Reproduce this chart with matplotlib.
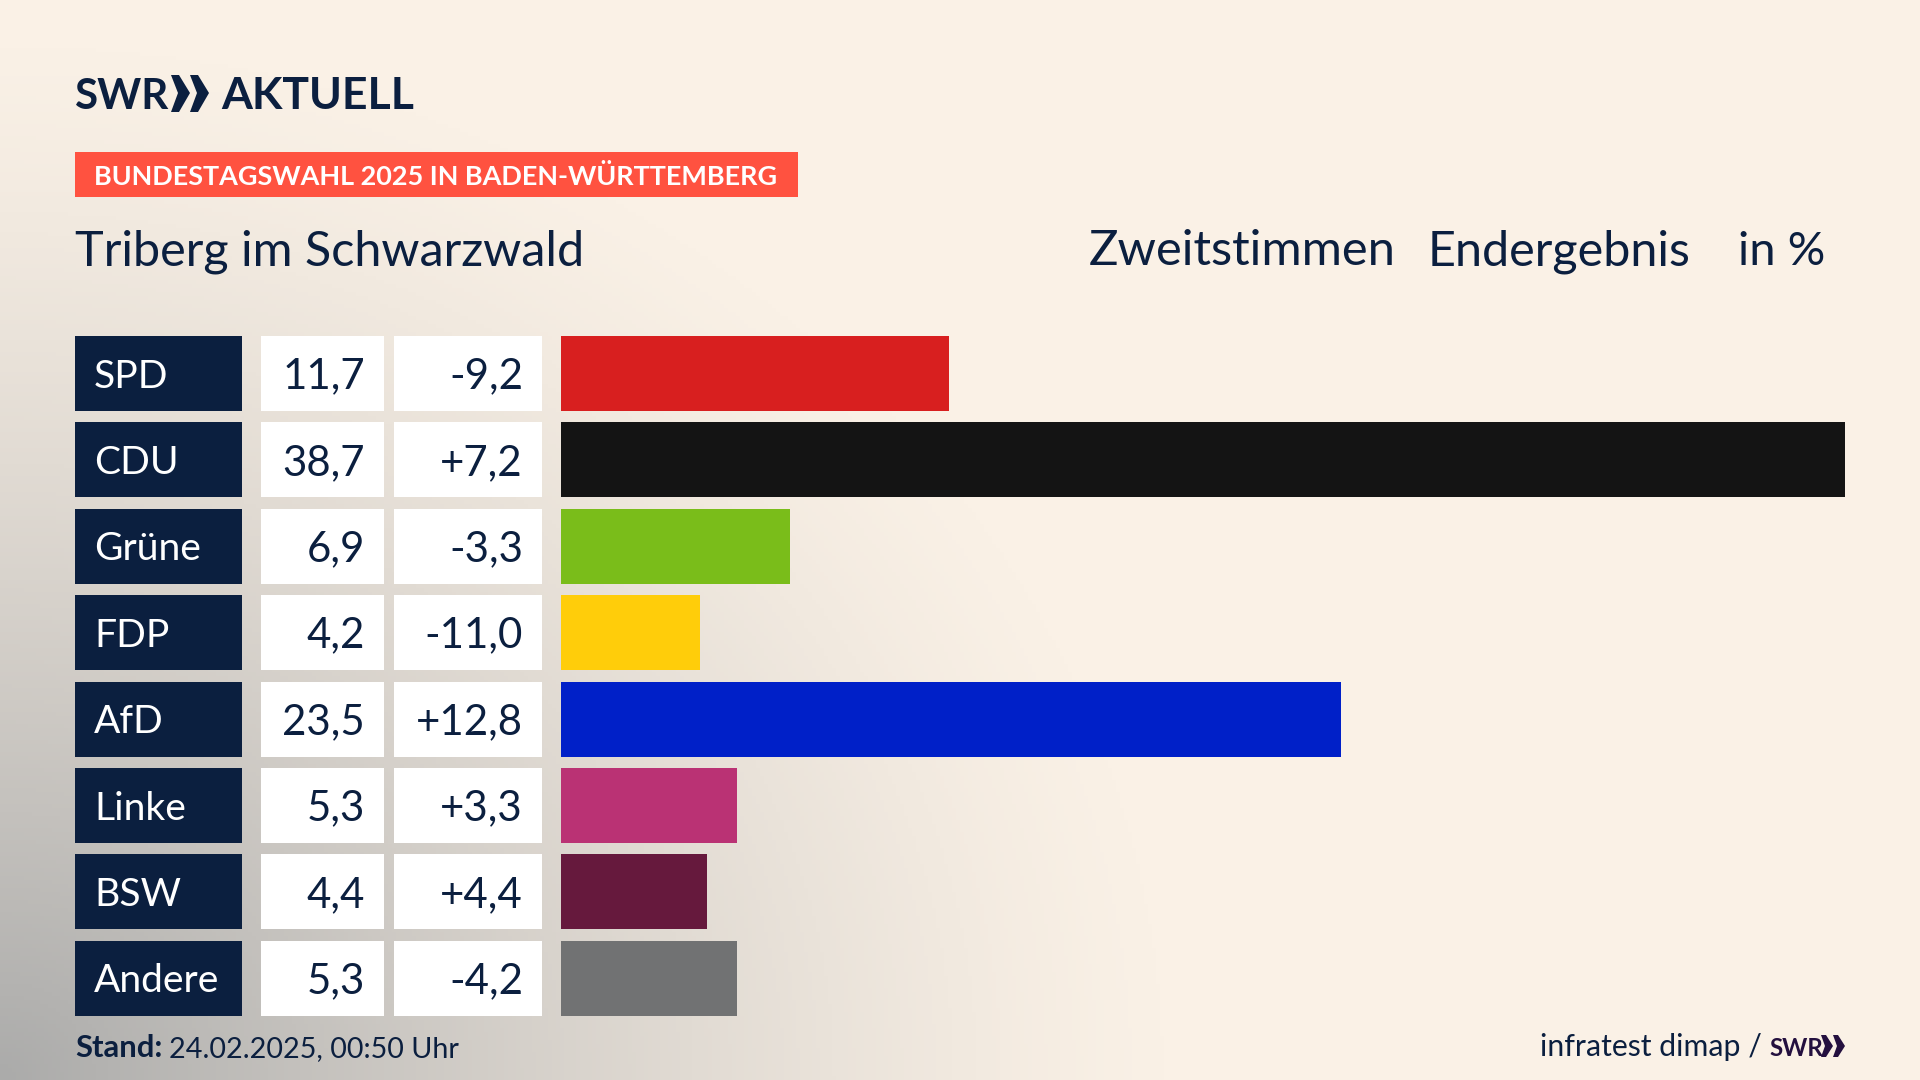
import matplotlib
matplotlib.use('Agg')
import matplotlib.pyplot as plt
import numpy as np
from matplotlib.colors import LinearSegmentedColormap

plt.rcParams['font.family'] = ['Lato', 'Noto Sans', 'DejaVu Sans']

parties = ['SPD', 'CDU', 'Grüne', 'FDP', 'AfD', 'Linke', 'BSW', 'Andere']
results = [11.7, 38.7, 6.9, 4.2, 23.5, 5.3, 4.4, 5.3]
changes = ['-9,2', '+7,2', '-3,3', '-11,0', '+12,8', '+3,3', '+4,4', '-4,2']
bar_colors = ['#D81F1F', '#141414', '#7ABD1A', '#FFCD0A', '#0020C8', '#BA3274', '#66193D', '#717273']

NAVY = '#0B1F3F'
W, H = 1920, 1080
ROW0, PITCH, ROW_H = 373.5, 86.4, 75


def pt(px):
    return px * 0.72


fig = plt.figure(figsize=(W / 100, H / 100), dpi=100)
ax = fig.add_axes([0, 0, 1, 1])
ax.set_xlim(0, W)
ax.set_ylim(H, 0)
ax.axis('off')

# hintergrund: grauer verlauf von unten links
xx, yy = np.meshgrid(np.linspace(0, 1, 480), np.linspace(0, 1, 270))
dist = np.sqrt((xx * W / 1180) ** 2 + ((1 - yy) * H / 1050) ** 2)
shade = np.clip(1 - dist, 0, 1) ** 1.3
cmap = LinearSegmentedColormap.from_list('bg', ['#FAF1E6', '#ABABAA'])
ax.imshow(shade, extent=[0, W, H, 0], cmap=cmap, vmin=0, vmax=1, aspect='auto', zorder=0)

# logo
ax.text(75, 109, 'SWR', color=NAVY, fontsize=pt(42), fontweight='bold', va='baseline', zorder=3)
for x0 in (171, 190):
    ax.fill([x0, x0 + 8, x0 + 19, x0 + 8, x0, x0 + 7], [75, 75, 93, 112, 112, 93], color=NAVY, zorder=3, lw=0)
ax.text(221, 109, 'AKTUELL', color=NAVY, fontsize=pt(44.5), fontweight='bold', va='baseline', zorder=3)

# kopfzeile
ax.fill_between([75, 798], 152, 197, color='#FF5240', lw=0, zorder=2)
ax.text(94, 185, 'BUNDESTAGSWAHL 2025 IN BADEN-WÜRTTEMBERG', color='white', fontsize=pt(27),
        fontweight='bold', va='baseline', zorder=3)
ax.text(75, 265, 'Triberg im Schwarzwald', color=NAVY, fontsize=pt(48.5), va='baseline', zorder=3)
ax.text(1089, 265, 'Zweitstimmen', color=NAVY, fontsize=pt(49), va='baseline', zorder=3)
ax.text(1428, 265, 'Endergebnis', color=NAVY, fontsize=pt(48.5), va='baseline', zorder=3)
ax.text(1825, 265, 'in %', color=NAVY, fontsize=pt(47), va='baseline', ha='right', zorder=3)

# tabelle
rows = ROW0 + PITCH * np.arange(len(parties))
ax.barh(rows, 167, left=75, height=ROW_H, color=NAVY, zorder=2)
ax.barh(rows, 123, left=261, height=ROW_H, color='white', zorder=2)
ax.barh(rows, 148, left=394, height=ROW_H, color='white', zorder=2)
for y, party, res, chg in zip(rows, parties, results, changes):
    ax.text(94, y + 14, party, color='white', fontsize=pt(39), va='baseline', zorder=3)
    ax.text(365, y + 15, f'{res:.1f}'.replace('.', ','), color=NAVY, fontsize=pt(42), va='baseline', ha='right', zorder=3)
    ax.text(523, y + 15, chg, color=NAVY, fontsize=pt(42), va='baseline', ha='right', zorder=3)

# balken in eigener achse, x in prozent
bar_ax = fig.add_axes([561 / W, 1 - (ROW0 + 7.5 * PITCH) / H, (1845 - 561) / W, 8 * PITCH / H])
bar_ax.patch.set_alpha(0)
bar_ax.barh(range(len(results)), results, height=ROW_H / PITCH, color=bar_colors)
bar_ax.set_xlim(0, 38.7)
bar_ax.set_ylim(7.5, -0.5)
bar_ax.axis('off')

# fusszeile
ax.text(75, 1057, 'Stand:', color=NAVY, fontsize=pt(31), fontweight='bold', va='baseline', zorder=3)
ax.text(169, 1057, '24.02.2025, 00:50 Uhr', color=NAVY, fontsize=pt(28.8), va='baseline', zorder=3)
ax.text(1762, 1056, 'infratest dimap /', color=NAVY, fontsize=pt(30.3), va='baseline', ha='right', zorder=3)
ax.text(1769, 1056, 'SWR', color='#24103F', fontsize=pt(24), fontweight='bold', va='baseline', zorder=3)
for x0 in (1821, 1833):
    ax.fill([x0, x0 + 5, x0 + 12, x0 + 5, x0, x0 + 4], [1035, 1035, 1046, 1057, 1057, 1046], color='#24103F', zorder=3, lw=0)

fig.savefig('out.png', dpi=100)
